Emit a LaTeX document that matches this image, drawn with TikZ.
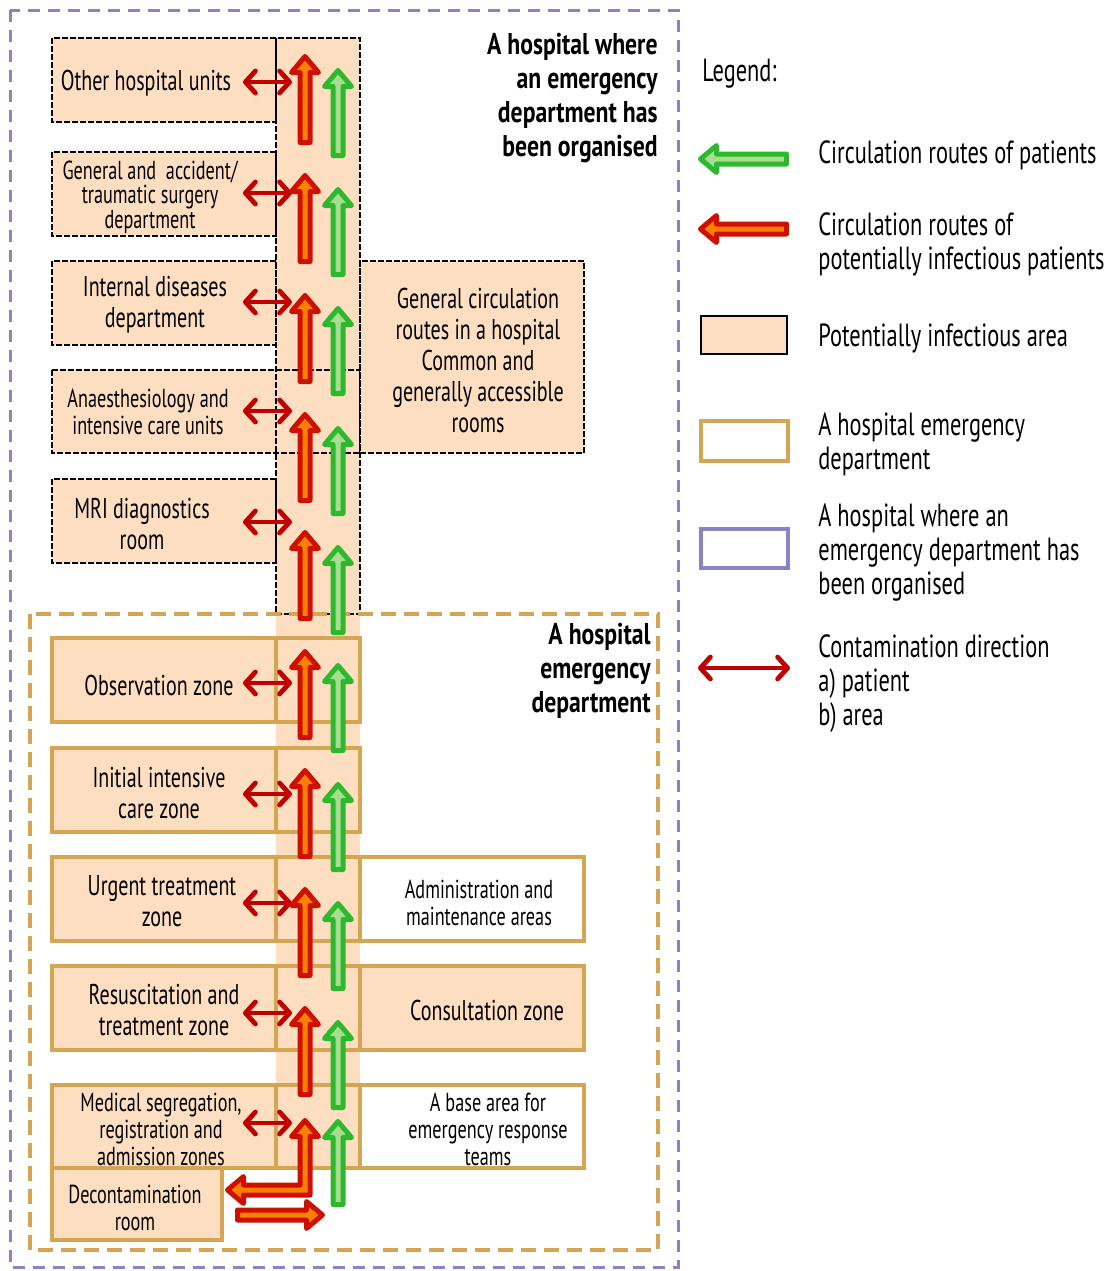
\documentclass[tikz,border=0pt]{standalone}
\usepackage{fontspec}
\setmainfont[FakeStretch=0.7]{PT Sans}
\newfontfamily\ttlfont[FakeStretch=0.79]{PT Sans}
\usetikzlibrary{arrows.meta}
\definecolor{peach}{HTML}{FDDEC0}
\definecolor{edtan}{HTML}{D4A553}
\definecolor{purp}{HTML}{8585C8}
\definecolor{redA}{HTML}{CC1100}
\definecolor{oranA}{HTML}{FF8000}
\definecolor{grnA}{HTML}{2DB82D}
\definecolor{grnL}{HTML}{A8DC90}
\definecolor{dred}{HTML}{C00000}
\newcommand\UpArr[4]{%
  \draw[#4] ({#1-5},{#3-2.5}) -- ({#1-5},{#2+18.5}) -- ({#1-13.5},{#2+18.5}) -- (#1,{#2+2.5})
   -- ({#1+13.5},{#2+18.5}) -- ({#1+5},{#2+18.5}) -- ({#1+5},{#3-2.5}) -- cycle;}
\newcommand\LeftArr[4]{%
  \draw[#4] ({#3-2.5},{#1-5}) -- ({#2+18.5},{#1-5}) -- ({#2+18.5},{#1-13.5}) -- ({#2+2.5},#1)
   -- ({#2+18.5},{#1+13.5}) -- ({#2+18.5},{#1+5}) -- ({#3-2.5},{#1+5}) -- cycle;}
\tikzset{
  upbox/.style={fill=peach, draw=black, line width=0.8pt, dash pattern=on 3pt off 1pt},
  dashonly/.style={draw=black, line width=0.8pt, dash pattern=on 3pt off 1pt},
  edbox/.style={fill=peach, draw=edtan, line width=1.75pt},
  edwhite/.style={fill=white, draw=edtan, line width=1.75pt},
  edline/.style={draw=edtan, line width=1.75pt},
  redarr/.style={draw=redA, fill=oranA, line width=2.5pt, line join=round},
  grnarr/.style={draw=grnA, fill=grnL, line width=2.5pt, line join=round},
  dbl/.style={draw=dred, line width=2.4pt, {Straight Barb[round,length=5pt,width=11pt]}-{Straight Barb[round,length=5pt,width=11pt]}},
  big/.style={font=\fontsize{14.3}{15.5}\selectfont, align=center, inner sep=0pt},
  med/.style={font=\fontsize{13}{13.5}\selectfont, align=center, inner sep=0pt},
  sml/.style={font=\fontsize{13}{12.3}\selectfont, align=center, inner sep=0pt},
  ttl/.style={font=\ttlfont\bfseries\fontsize{15}{17}\selectfont, align=right, inner sep=0pt, anchor=east},
  leg/.style={font=\fontsize{16}{17}\selectfont, align=left, inner sep=0pt, anchor=west},
}
\begin{document}
\begin{tikzpicture}[x=0.5pt,y=-0.5pt]
\useasboundingbox (0,0) rectangle (1106,1271);
% corridor shading
\fill[peach] (276,38) rectangle (360,1168);
% upper dashed boxes
\draw[upbox] (52,38) rectangle (276,122);
\draw[upbox] (52,152) rectangle (276,236);
\draw[upbox] (52,261) rectangle (276,345);
\draw[upbox] (52,370) rectangle (360,453);
\draw[upbox] (52,479) rectangle (276,563);
\draw[upbox] (360,261) rectangle (584,453);
\draw[dashonly] (276,38) rectangle (360,614);
% emergency department boxes
\draw[edbox] (52,638) rectangle (360,722);
\draw[edline] (276,638) -- (276,722);
\draw[edbox] (52,748) rectangle (360,832);
\draw[edline] (276,748) -- (276,832);
\draw[edbox] (52,857) rectangle (360,941);
\draw[edline] (276,857) -- (276,941);
\draw[edwhite] (360,857) rectangle (584,941);
\draw[edbox] (52,966) rectangle (360,1050);
\draw[edline] (276,966) -- (276,1050);
\draw[edbox] (360,966) rectangle (584,1050);
\draw[edbox] (52,1085) rectangle (360,1168);
\draw[edline] (276,1085) -- (276,1168);
\draw[edwhite] (360,1085) rectangle (584,1168);
\draw[edbox] (52,1168) rectangle (222,1240);
% frames
\draw[draw=edtan, line width=2pt, dash pattern=on 7.5pt off 4pt] (30,614) rectangle (658,1250);
\draw[draw=purp, line width=1.5pt, dash pattern=on 6pt off 4pt] (10,10) rectangle (678,1267);
% labels
\node[big] (n1) at (146,83) {Other hospital units};
\node[sml] (n2) at (150,197) {General and\ \ accident/\\traumatic surgery\\department};
\node[big] (n3) at (155,305) {Internal diseases\\department};
\node[med] (n4) at (148,412) {Anaesthesiology and\\intensive care units};
\node[big] (n5) at (142,524) {MRI diagnostics\\room};
\node[big] (n6) at (478,360) {General circulation\\routes in a hospital\\Common and\\generally accessible\\rooms};
\node[big] (n7) at (159,685) {Observation zone};
\node[big] (n8) at (159,793) {Initial intensive\\care zone};
\node[big] (n9) at (162,901) {Urgent treatment\\zone};
\node[big] (n10) at (164,1010) {Resuscitation and\\treatment zone};
\node[med] (n11) at (161,1129) {Medical segregation,\\registration and\\admission zones};
\node[med] (n12) at (135,1208) {Decontamination\\room};
\node[med] (n13) at (479,903) {Administration and\\maintenance areas};
\node[big] (n14) at (487,1010) {Consultation zone};
\node[med] (n15) at (488,1129) {A base area for\\emergency response\\teams};
\node[ttl] (t1) at (658,98) {A hospital where\\an emergency\\department has\\been organised};
\node[ttl] (t2) at (651,671) {A hospital\\emergency\\department};
% contamination double arrows
\foreach \yy in {82,193,302,411,522,683,794,903,1013,1123}
  \draw[dbl] (243,\yy) -- (292,\yy);
% circulation arrows
\foreach \tp in {54,173,293,412,530,649,768,887,1006}
  \UpArr{305}{\tp}{\tp+91}{redarr};
\foreach \tp in {68,187,306,426,545,663,782,901,1020}
  \UpArr{338}{\tp}{\tp+90}{grnarr};
\UpArr{338}{1119}{1207}{grnarr};
% bent arrow to decontamination room
\draw[redarr] (305,1120.5) -- (318.5,1136.5) -- (310,1136.5) -- (310,1195) -- (243.5,1195)
  -- (243.5,1203.5) -- (227.5,1190) -- (243.5,1176.5) -- (243.5,1185) -- (300,1185)
  -- (300,1136.5) -- (291.5,1136.5) -- cycle;
\draw[redarr] (237.5,1210) -- (306.5,1210) -- (306.5,1201.5) -- (322.5,1215) -- (306.5,1228.5)
  -- (306.5,1220) -- (237.5,1220) -- cycle;
% legend
\node[leg] (l0) at (702,74) {Legend:};
\LeftArr{159}{698}{789}{grnarr};
\LeftArr{229}{698}{789}{redarr};
\draw[fill=peach, draw=black, line width=0.8pt] (701,316) rectangle (787,354);
\draw[draw=edtan, line width=1.75pt] (701,421) rectangle (788,461);
\draw[draw=purp, line width=1.75pt] (701,529) rectangle (788,568);
\draw[dbl] (698,668) -- (790,668);
\node[leg] (l1) at (818,155) {Circulation routes of patients};
\node[leg] (l2) at (818,244) {Circulation routes of\\potentially infectious patients};
\node[leg] (l3) at (818,338) {Potentially infectious area};
\node[leg] (l4) at (818,444) {A hospital emergency\\department};
\node[leg] (l5) at (818,553) {A hospital where an\\emergency department has\\been organised};
\node[leg] (l6) at (818,684) {Contamination direction\\a) patient\\b) area};
\end{tikzpicture}
\end{document}
